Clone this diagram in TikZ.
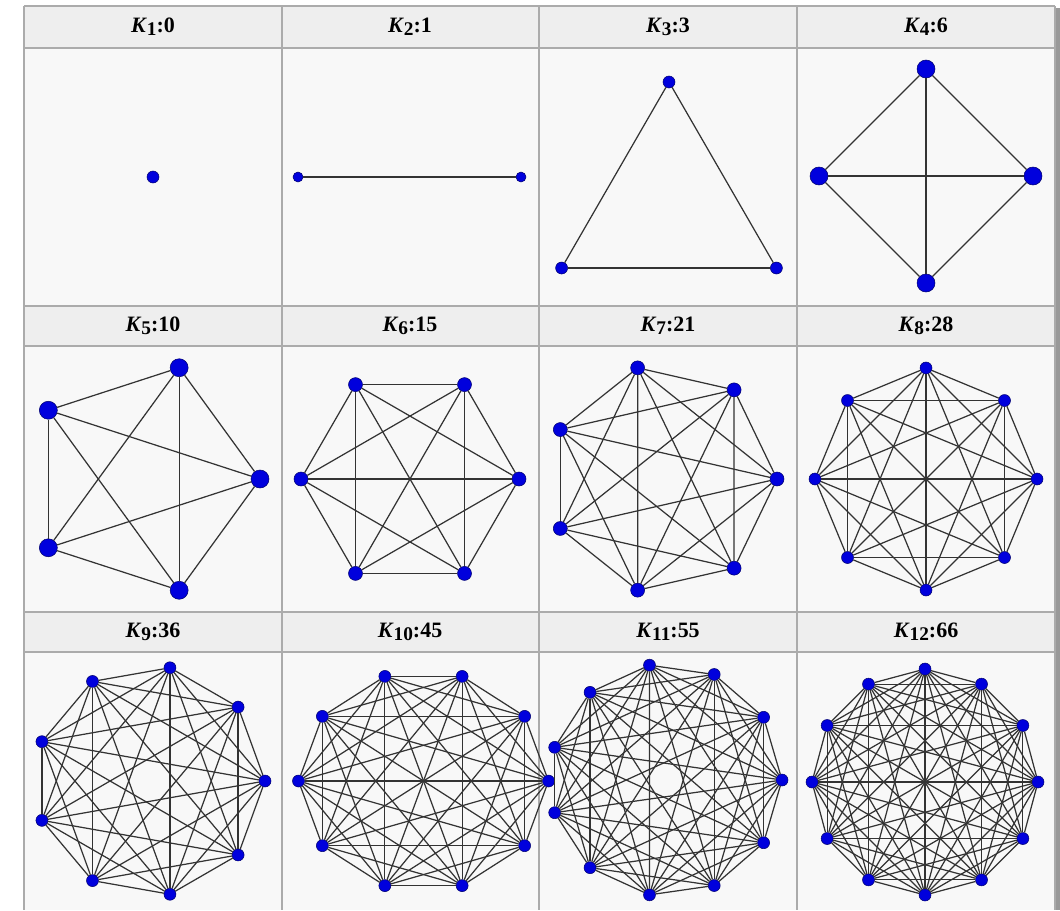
\documentclass[tikz,border=0pt]{standalone}
\usepackage{fontspec}
\setmainfont{Liberation Serif}

\definecolor{cellgray}{HTML}{F8F8F8}
\definecolor{headgray}{HTML}{EEEEEE}
\definecolor{rulegray}{HTML}{ABABAB}
\definecolor{dotblue}{HTML}{0000DD}
\definecolor{dotrim}{HTML}{000070}
\definecolor{edgegray}{HTML}{333333}

\tikzset{
    vtx/.style={circle, fill=dotblue, draw=dotrim, line width=0.3pt, inner sep=0pt, minimum size=#1},
    kedge/.style={draw=edgegray, line width=0.7pt},
    headtext/.style={font=\fontsize{12.5}{14}\selectfont\bfseries, inner sep=0pt},
    rule/.style={draw=rulegray, line width=0.9pt},
}

% titolo della cella: K_n:m
\newcommand{\khead}[2]{\textit{K}\raisebox{-0.3ex}{\fontsize{11}{12}\selectfont #1}:#2}

% grafo completo: nome, n, cx, cy, raggio x, raggio y, angolo iniziale, diametro del punto
\newcommand{\completegraph}[8]{%
    \foreach \i in {1,...,#2}{
        \node[vtx=#8] (#1v\i) at ({#3+#5*cos(#7+360*(\i-1)/#2)},{#4-#6*sin(#7+360*(\i-1)/#2)}) {};
    }
    \ifnum#2>1
        \pgfmathtruncatemacro\kmax{#2-1}
        \foreach \i in {1,...,\kmax}{
            \pgfmathtruncatemacro\knext{\i+1}
            \foreach \j in {\knext,...,#2}{
                \draw[kedge] (#1v\i) -- (#1v\j);
            }
        }
    \fi
}

\begin{document}
\begin{tikzpicture}[x=0.02cm, y=-0.02cm]
    \useasboundingbox (0,0) rectangle (1060,910);
    \fill[white] (0,0) rectangle (1060,910);

    % Celle
    \fill[headgray] (24,6) rectangle (1055,48);
    \fill[headgray] (24,306) rectangle (1055,346);
    \fill[headgray] (24,612) rectangle (1055,652);
    \fill[cellgray] (24,48) rectangle (1055,306);
    \fill[cellgray] (24,346) rectangle (1055,612);
    \fill[cellgray] (24,652) rectangle (1055,910);
    \fill[gray!80] (1056,8) rectangle (1060,910);

    % Griglia
    \foreach \y in {6,48,306,346,612,652}
        \draw[rule] (24,\y) -- (1055,\y);
    \foreach \x in {24,282,539,797,1055}
        \draw[rule] (\x,6) -- (\x,910);

    % Titoli
    \node[headtext] (h1) at (153,27) {\khead{1}{0}};
    \node[headtext] (h2) at (410,27) {\khead{2}{1}};
    \node[headtext] (h3) at (668,27) {\khead{3}{3}};
    \node[headtext] (h4) at (926,27) {\khead{4}{6}};
    \node[headtext] (h5) at (153,326) {\khead{5}{10}};
    \node[headtext] (h6) at (410,326) {\khead{6}{15}};
    \node[headtext] (h7) at (668,326) {\khead{7}{21}};
    \node[headtext] (h8) at (926,326) {\khead{8}{28}};
    \node[headtext] (h9) at (153,632) {\khead{9}{36}};
    \node[headtext] (h10) at (410,632) {\khead{10}{45}};
    \node[headtext] (h11) at (668,632) {\khead{11}{55}};
    \node[headtext] (h12) at (926,632) {\khead{12}{66}};

    % Grafi
    \completegraph{ka}{1}{153}{177}{0}{0}{0}{0.24cm}
    \completegraph{kb}{2}{409.5}{177}{111.5}{111.5}{0}{0.2cm}
    \completegraph{kc}{3}{669}{206}{124}{124}{90}{0.24cm}
    \completegraph{kd}{4}{926}{176}{107}{107}{90}{0.36cm}
    \completegraph{ke}{5}{143}{479}{117}{117}{0}{0.36cm}
    \completegraph{kf}{6}{410}{479}{109}{109}{0}{0.28cm}
    \completegraph{kg}{7}{663}{479}{114}{114}{0}{0.28cm}
    \completegraph{kh}{8}{926}{479}{111}{111}{0}{0.24cm}
    \completegraph{ki}{9}{150}{781}{115}{115}{0}{0.24cm}
    \completegraph{kj}{10}{423.5}{781}{125}{110}{0}{0.24cm}
    \completegraph{kk}{11}{666}{780}{116}{116}{0}{0.24cm}
    \completegraph{kl}{12}{925}{782}{113}{113}{90}{0.24cm}
\end{tikzpicture}
\end{document}
